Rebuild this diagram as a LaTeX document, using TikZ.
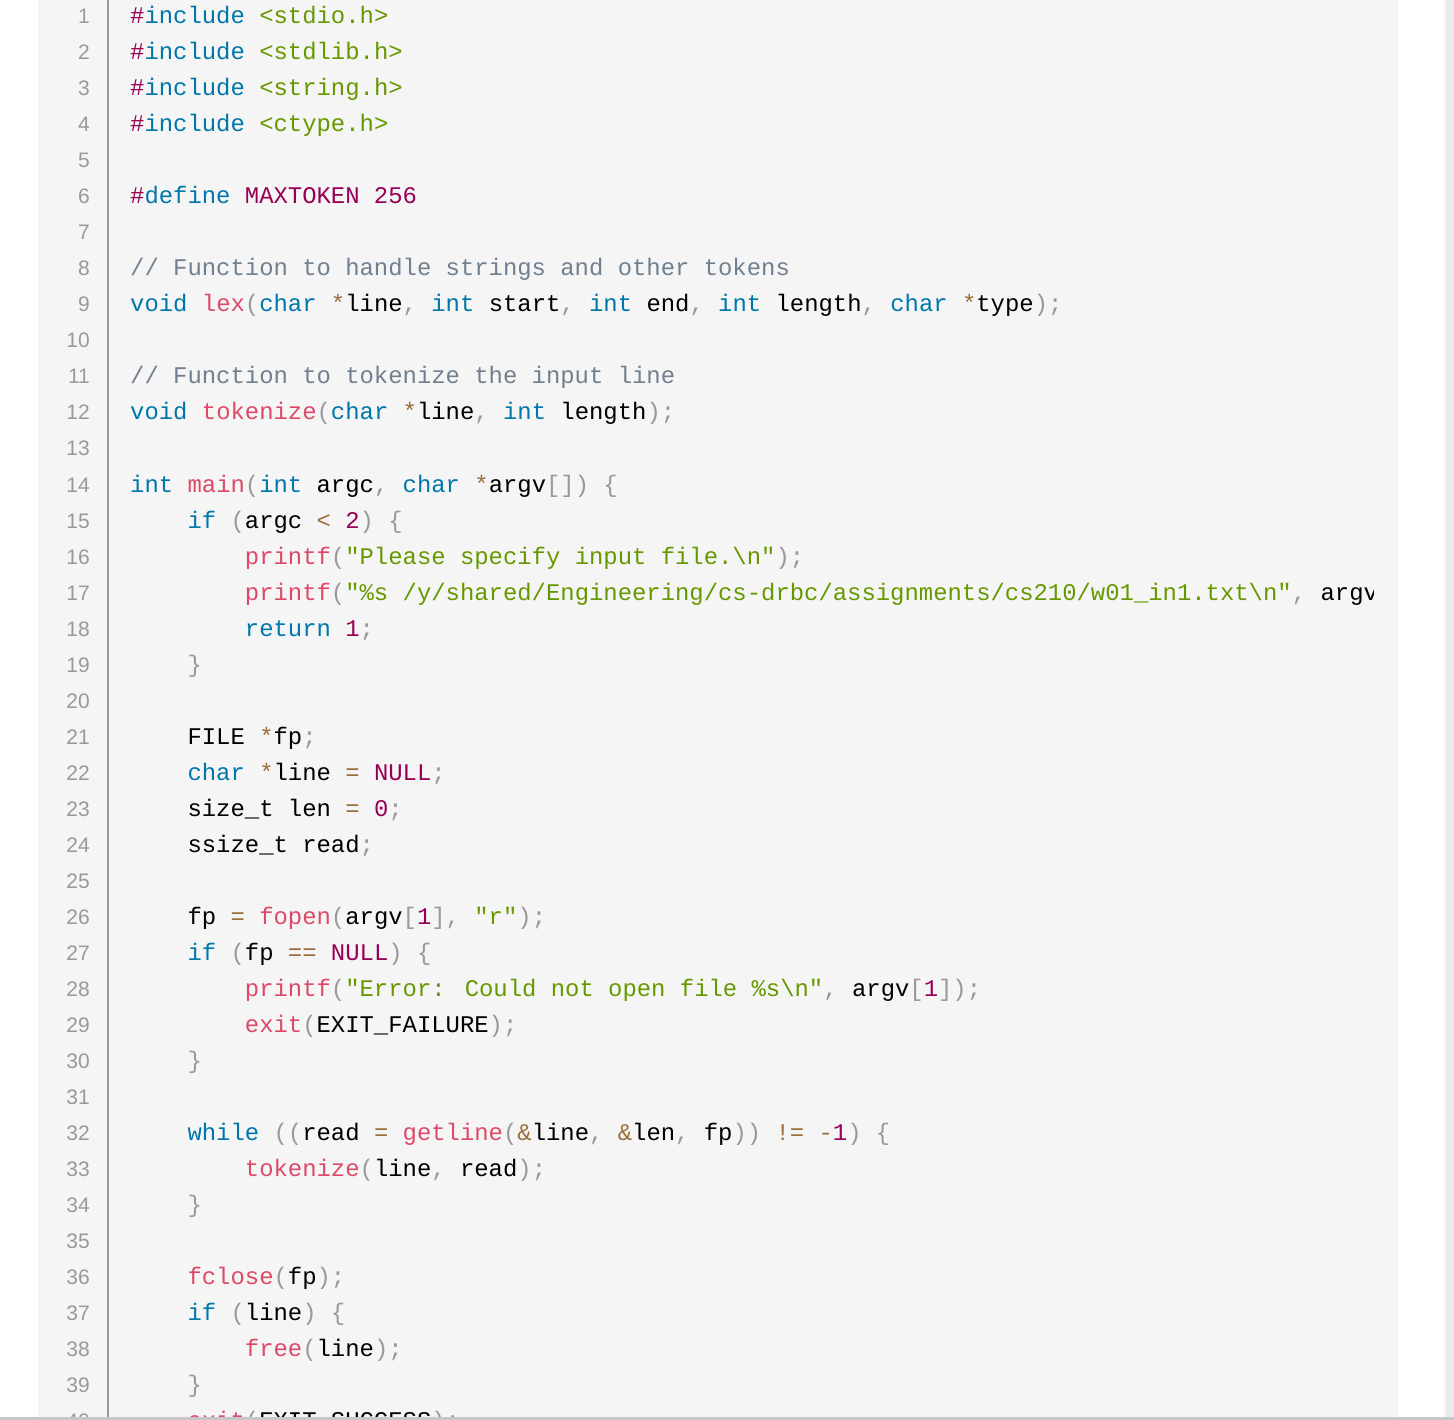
\documentclass[tikz,border=0pt]{standalone}
\usepackage{fontspec}
\newfontfamily\codefont{Liberation Mono}
\newfontfamily\numfont{Liberation Sans}
\definecolor{kw}{HTML}{0077AA}
\definecolor{fn}{HTML}{DD4A68}
\definecolor{st}{HTML}{669900}
\definecolor{op}{HTML}{9A6E3A}
\definecolor{pu}{HTML}{999999}
\definecolor{nu}{HTML}{990055}
\definecolor{co}{HTML}{708090}
\definecolor{bgc}{HTML}{F5F5F5}
\newcommand\ck[1]{\textcolor{kw}{#1}}
\newcommand\cf[1]{\textcolor{fn}{#1}}
\newcommand\cs[1]{\textcolor{st}{#1}}
\newcommand\co[1]{\textcolor{op}{#1}}
\newcommand\cp[1]{\textcolor{pu}{#1}}
\newcommand\cn[1]{\textcolor{nu}{#1}}
\newcommand\cc[1]{\textcolor{co}{#1}}
\newcommand\pct{\symbol{37}}
\newcommand\codeline[3]{\node[code] (l#1) at ({130+14.34*#2},{24+36*(#1-1)}) {#3};}
\tikzset{
  code/.style={anchor=base west, inner sep=0pt, font=\codefont\fontsize{23.9}{28}\selectfont},
  lnum/.style={anchor=base east, inner sep=0pt, text=pu, font=\numfont\fontsize{21}{26}\selectfont},
}
\begin{document}
\begin{tikzpicture}[x=1pt,y=-1pt]
\useasboundingbox (0,0) rectangle (1454,1420);
\fill[white] (0,0) rectangle (1454,1420);
\fill[bgc] (38,0) rectangle (1398,1418);
\fill[black!8] (1446,0) rectangle (1454,1418);
\fill[black!4] (1444,0) rectangle (1446,1418);
\draw[pu, line width=2pt] (108,0) -- (108,1418);
\begin{scope}
\clip (38,0) rectangle (1373,1417);
\foreach \i in {1,...,40} {
  \node[lnum] (n\i) at (90,{24+36*(\i-1)}) {\i};
}
\codeline{1}{0}{\cn{\#}\ck{include} \cs{<stdio.h>}}
\codeline{2}{0}{\cn{\#}\ck{include} \cs{<stdlib.h>}}
\codeline{3}{0}{\cn{\#}\ck{include} \cs{<string.h>}}
\codeline{4}{0}{\cn{\#}\ck{include} \cs{<ctype.h>}}
\codeline{6}{0}{\cn{\#}\ck{define} \cn{MAXTOKEN 256}}
\codeline{8}{0}{\cc{// Function to handle strings and other tokens}}
\codeline{9}{0}{\ck{void} \cf{lex}\cp{(}\ck{char} \co{*}line\cp{,} \ck{int} start\cp{,} \ck{int} end\cp{,} \ck{int} length\cp{,} \ck{char} \co{*}type\cp{);}}
\codeline{11}{0}{\cc{// Function to tokenize the input line}}
\codeline{12}{0}{\ck{void} \cf{tokenize}\cp{(}\ck{char} \co{*}line\cp{,} \ck{int} length\cp{);}}
\codeline{14}{0}{\ck{int} \cf{main}\cp{(}\ck{int} argc\cp{,} \ck{char} \co{*}argv\cp{[])} \cp{\{}}
\codeline{15}{4}{\ck{if} \cp{(}argc \co{<} \cn{2}\cp{)} \cp{\{}}
\codeline{16}{8}{\cf{printf}\cp{(}\cs{"Please specify input file.\textbackslash n"}\cp{);}}
\codeline{17}{8}{\cf{printf}\cp{(}\cs{"\pct s /y/shared/Engineering/cs-drbc/assignments/cs210/w01\_in1.txt\textbackslash n"}\cp{,} argv\cp{[}\cn{0}\cp{]);}}
\codeline{18}{8}{\ck{return} \cn{1}\cp{;}}
\codeline{19}{4}{\cp{\}}}
\codeline{21}{4}{FILE \co{*}fp\cp{;}}
\codeline{22}{4}{\ck{char} \co{*}line \co{=} \cn{NULL}\cp{;}}
\codeline{23}{4}{size\_t len \co{=} \cn{0}\cp{;}}
\codeline{24}{4}{ssize\_t read\cp{;}}
\codeline{26}{4}{fp \co{=} \cf{fopen}\cp{(}argv\cp{[}\cn{1}\cp{],} \cs{"r"}\cp{);}}
\codeline{27}{4}{\ck{if} \cp{(}fp \co{==} \cn{NULL}\cp{)} \cp{\{}}
\codeline{28}{8}{\cf{printf}\cp{(}\cs{"Error: Could not open file \pct s\textbackslash n"}\cp{,} argv\cp{[}\cn{1}\cp{]);}}
\codeline{29}{8}{\cf{exit}\cp{(}EXIT\_FAILURE\cp{);}}
\codeline{30}{4}{\cp{\}}}
\codeline{32}{4}{\ck{while} \cp{((}read \co{=} \cf{getline}\cp{(}\co{\&}line\cp{,} \co{\&}len\cp{,} fp\cp{))} \co{!=} \co{-}\cn{1}\cp{)} \cp{\{}}
\codeline{33}{8}{\cf{tokenize}\cp{(}line\cp{,} read\cp{);}}
\codeline{34}{4}{\cp{\}}}
\codeline{36}{4}{\cf{fclose}\cp{(}fp\cp{);}}
\codeline{37}{4}{\ck{if} \cp{(}line\cp{)} \cp{\{}}
\codeline{38}{8}{\cf{free}\cp{(}line\cp{);}}
\codeline{39}{4}{\cp{\}}}
\codeline{40}{4}{\cf{exit}\cp{(}EXIT\_SUCCESS\cp{);}}
\end{scope}
\fill[black!22] (0,1417) rectangle (1454,1420);
\end{tikzpicture}
\end{document}
